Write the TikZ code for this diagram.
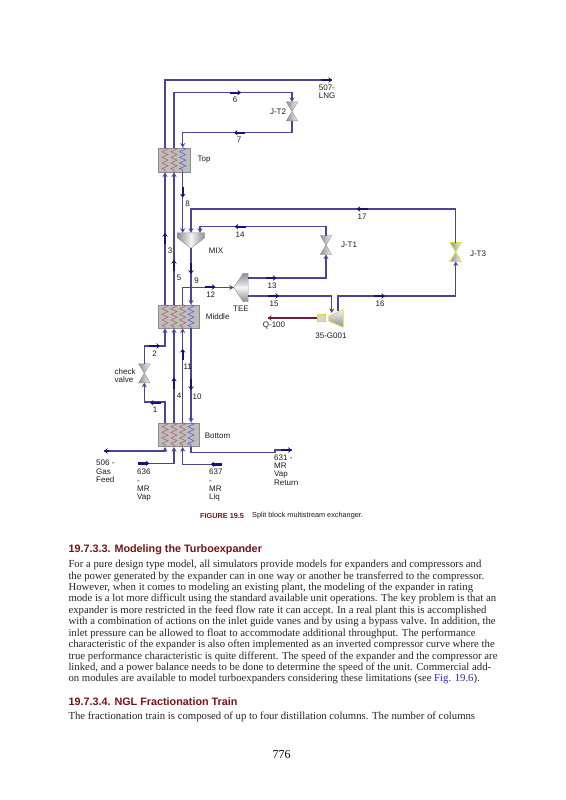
\documentclass[tikz,border=0pt]{standalone}
\usepackage{fontspec}
\setmainfont{Liberation Serif}
\setsansfont{Liberation Sans}
\usepackage{tikz}
\usetikzlibrary{arrows.meta, positioning, calc, decorations.pathmorphing}
\definecolor{pipeblue}{HTML}{4A4598}
\definecolor{tipblue}{HTML}{1C0F78}
\definecolor{blockgray}{HTML}{BDBDBD}
\definecolor{edgegray}{HTML}{8C8C8C}
\definecolor{coilred}{HTML}{B0645A}
\definecolor{coilblue}{HTML}{5A5AC8}
\definecolor{heatred}{HTML}{6E1E3C}
\definecolor{headred}{HTML}{7A1414}
\definecolor{linkblue}{HTML}{2A2AB0}
\definecolor{inkgray}{HTML}{1A1A1A}
\definecolor{unitdark}{HTML}{8E8E8E}
\definecolor{unitlight}{HTML}{F4F4F4}
\tikzset{
    pipe/.style={draw=pipeblue, line width=1.5pt},
    endtip/.style={-{Stealth[length=4.5pt,width=5pt]}, pipe},
    flowmark/.style={draw=tipblue, line width=2.4pt, -{Stealth[length=3.5pt,width=5.5pt]}},
    blocknode/.style={rectangle, draw=edgegray, fill=blockgray, line width=0.9pt, inner sep=0pt},
    valvenode/.style={rectangle, minimum width=11pt, minimum height=18.6pt, inner sep=0pt},
    unitnode/.style={rectangle, inner sep=0pt},
    hotcoil/.style={draw=coilred, line width=0.55pt, decorate, decoration={zigzag, amplitude=3pt, segment length=5.6pt}},
    coldcoil/.style={draw=coilblue, line width=0.55pt, decorate, decoration={zigzag, amplitude=3pt, segment length=5.6pt}},
    tag/.style={inner sep=0pt, text=inkgray, font=\sffamily\fontsize{8}{8.3}\selectfont, align=left},
    bodyline/.style={anchor=west, inner sep=0pt, text=black!85, font=\fontsize{10.75}{12}\selectfont},
    headline/.style={anchor=west, inner sep=0pt, text=headred, font=\sffamily\bfseries\fontsize{10.8}{12}\selectfont}
}
\begin{document}
\begin{tikzpicture}[x=1pt, y=-1pt]
% Split block exchanger flowsheet with the page text under it; one unit is one pixel of the page.
  \useasboundingbox (0,0) rectangle (565,800);
  \fill[white] (0,0) rectangle (565,800);
  \foreach \n/\x in {a/165, b/174, c/182.7, d/191, e/200}
    \coordinate (x\n) at (\x,0);
  % units
  \node[blocknode, minimum width=32pt, minimum height=24pt] (top) at (174,160) {};
  \node[blocknode, minimum width=41pt, minimum height=23pt] (middle) at (178.5,316.5) {};
  \node[blocknode, minimum width=41pt, minimum height=23.7pt] (bottom) at (178.5,434.8) {};
  \node[valvenode] (jt2) at (292,111.4) {};
  \node[valvenode] (jt1) at (326,245) {};
  \node[valvenode] (jt3) at (455.7,252) {};
  \node[valvenode] (check) at (144.3,373.3) {};
  \node[unitnode, minimum width=27pt, minimum height=15pt] (mix) at (191,240.5) {};
  \node[unitnode, minimum width=14pt, minimum height=28pt] (tee) at (241,287.5) {};
  \node[unitnode, minimum width=14pt, minimum height=17pt] (expander) at (336,318.5) {};
  \node[unitnode, draw=yellow!70!gray, fill=unitlight!70!unitdark, minimum width=8pt, minimum height=7pt] (shaft) at (321,318) {};
  % coils
  \draw[hotcoil] (top.north -| xa) -- (top.south -| xa);
  \draw[hotcoil] (top.north -| xb) -- (top.south -| xb);
  \draw[coldcoil] (top.north -| xc) -- (top.south -| xc);
  \foreach \b in {middle, bottom} {
    \draw[hotcoil] (\b.north -| xa) -- (\b.south -| xa);
    \draw[hotcoil] (\b.north -| xb) -- (\b.south -| xb);
    \draw[hotcoil] (\b.north -| xc) -- (\b.south -| xc);
    \draw[coldcoil] (\b.north -| xd) -- (\b.south -| xd);
  }
  % valves and shaded units
  \foreach \v in {jt1, jt2, check}
    \shade[left color=unitdark, right color=unitlight, draw=unitdark, line width=0.4pt] (\v.north west) -- (\v.north east) -- (\v.south west) -- (\v.south east) -- cycle;
  \shade[left color=unitdark, right color=unitlight, draw=yellow!75!gray, line width=0.7pt] (jt3.north west) -- (jt3.north east) -- (jt3.south west) -- (jt3.south east) -- cycle;
  \shade[left color=unitdark, right color=unitlight] (mix.north west) -- (mix.north) -- (mix.south) -- ($(mix.north west)+(0,5)$) -- cycle;
  \shade[left color=unitlight, right color=unitdark] (mix.north) -- (mix.north east) -- ($(mix.north east)+(0,5)$) -- (mix.south) -- cycle;
  \draw[draw=unitdark, line width=0.4pt] (mix.north west) -- (mix.north east) -- ($(mix.north east)+(0,5)$) -- (mix.south) -- ($(mix.north west)+(0,5)$) -- cycle;
  \shade[top color=unitdark, bottom color=unitlight] (tee.west) -- ($(tee.north east)+(-5,0)$) -- (tee.north east) -- (tee.east) -- cycle;
  \shade[top color=unitlight, bottom color=unitdark] (tee.west) -- (tee.east) -- (tee.south east) -- ($(tee.south east)+(-5,0)$) -- cycle;
  \draw[draw=unitdark, line width=0.4pt] (tee.west) -- ($(tee.north east)+(-5,0)$) -- (tee.north east) -- (tee.south east) -- ($(tee.south east)+(-5,0)$) -- cycle;
  \shade[top color=unitlight, bottom color=unitdark, draw=yellow!75!gray, line width=0.7pt] ($(expander.west)+(0,-2.5)$) -- (expander.north east) -- (expander.south east) -- ($(expander.west)+(0,2.5)$) -- cycle;
  % free ends and ports
  \coordinate (lng) at (332,80);
  \coordinate (feed) at (104,451);
  \coordinate (mrvap) at (138,463.3);
  \coordinate (mrliq) at (221.7,464.3);
  \coordinate (retbend) at (275,452.7);
  \coordinate (retend) at (291.7,450);
  \coordinate (tee13) at (248,278);
  \coordinate (tee15) at (248,296);
  \coordinate (expin) at (331.7,313);
  \coordinate (expout) at (338,310.5);
  \coordinate (heatend) at (268,318);
  % streams
  \draw[pipe] (top.north -| xa) |- (lng);
  \draw[endtip] (top.north -| xb) -- ++(0,-55.3) -| (jt2.north);
  \draw[endtip] (jt2.south) -- ++(0,11.6) -| (top.north -| xc);
  \draw[endtip] (middle.north -| xa) -- (top.south -| xa);
  \draw[endtip] (middle.north -| xb) -- (top.south -| xb);
  \draw[endtip] (top.south -| xc) -- (mix.north -| xc);
  \draw[endtip] (jt3.north) -- ++(0,-33.7) -| (mix.north -| xd);
  \draw[endtip] (jt1.north) -- ++(0,-9) -| (mix.north -| xe);
  \draw[endtip] (mix.south) -- (middle.north -| xd);
  \draw[endtip] (middle.north -| xc) |- (tee.west);
  \draw[endtip] (tee13) -| (jt1.south);
  \draw[endtip] (tee15) -| (expin);
  \draw[endtip] (expout) -- ++(0,-14.5) -| (jt3.south);
  \draw[endtip] (check.north) -- ++(0,-18) -| (middle.south -| xa);
  \draw[endtip] (bottom.north -| xa) -- ++(0,-20.3) -| (check.south);
  \draw[endtip] (bottom.north -| xb) -- (middle.south -| xb);
  \draw[endtip] (bottom.north -| xc) -- (middle.south -| xc);
  \draw[endtip] (middle.south -| xd) -- (bottom.north -| xd);
  \draw[endtip] (feed) -| (bottom.south -| xa);
  \draw[endtip] (mrvap) -| (bottom.south -| xb);
  \draw[endtip] (mrliq) -| (bottom.south -| xc);
  \draw[pipe] (bottom.south -| xd) |- (retbend) |- (retend);
  \draw[draw=heatred, line width=1.3pt] (shaft.west) -- (heatend);
  \draw[draw=heatred, line width=2.4pt, -{Stealth[length=3.5pt,width=5.5pt]}] ($(heatend)+(12,0)$) -- (heatend);
  % flow marks on the streams
  \foreach \x/\y/\a in {332/80/0, 241/92.7/0, 234/132.7/180, 182.7/197.5/90, 234.7/226.7/180, 165/233/270,
      174/260/270, 191/274/90, 215.5/287/0, 276.5/278/0, 279/296/0, 385/296/0, 356.7/209/180, 160/346/0,
      150/402.7/180, 182.7/349/270, 174/377.7/270, 191/390/90, 149.3/463.3/0, 210.7/464.3/180, 291.7/450/0}
    \draw[flowmark] (\x,\y) ++(\a+180:11) -- (\x,\y);
  \draw[flowmark] (109,451) -- (feed);
  % tags
  \node[tag, anchor=west] (lnglabel) at (318.7,91.5) {507-\\LNG};
  \node[tag] (s6) at (235,100) {6};
  \node[tag] (jt2label) at (278,112) {J-T2};
  \node[tag] (s7) at (239,140) {7};
  \node[tag, anchor=west] (toplabel) at (197.5,160) {Top};
  \node[tag] (s8) at (187.7,204) {8};
  \node[tag] (s17) at (362,216.7) {17};
  \node[tag] (s14) at (240,235) {14};
  \node[tag] (jt1label) at (349,245) {J-T1};
  \node[tag] (s3) at (170,251) {3};
  \node[tag] (mixlabel) at (216,250.7) {MIX};
  \node[tag] (jt3label) at (478,254) {J-T3};
  \node[tag] (s5) at (179,278) {5};
  \node[tag] (s9) at (196.7,281) {9};
  \node[tag] (s13) at (272,286) {13};
  \node[tag] (s12) at (210.7,295) {12};
  \node[tag] (s15) at (274,303.7) {15};
  \node[tag] (s16) at (380,304) {16};
  \node[tag] (teelabel) at (241,308.7) {TEE};
  \node[tag, anchor=west] (midlabel) at (205.7,317) {Middle};
  \node[tag] (qlabel) at (274,325.7) {Q-100};
  \node[tag] (explabel) at (331,335.7) {35-G001};
  \node[tag] (s2) at (154.7,354) {2};
  \node[tag] (s11) at (187.7,366.7) {11};
  \node[tag, anchor=west] (checklabel) at (114.5,375.7) {check\\valve};
  \node[tag] (s4) at (179,395.7) {4};
  \node[tag] (s10) at (197,397) {10};
  \node[tag] (s1) at (155,410) {1};
  \node[tag, anchor=west] (botlabel) at (204.7,436) {Bottom};
  \node[tag, anchor=north west] (feedlabel) at (96,460) {506 -\\Gas\\Feed};
  \node[tag, anchor=north west] (vaplabel) at (137,469) {636\\-\\MR\\Vap};
  \node[tag, anchor=north west] (liqlabel) at (209,469) {637\\-\\MR\\Liq};
  \node[tag, anchor=north west] (retlabel) at (274,454.5) {631 -\\MR\\Vap\\Return};
  % page text
  \node[anchor=west, inner sep=0pt, text=headred, font=\sffamily\bfseries\fontsize{7.3}{8}\selectfont] (figno) at (200,516) {FIGURE 19.5};
  \node[anchor=west, inner sep=0pt, text=inkgray, font=\sffamily\fontsize{7.3}{8}\selectfont] (caption) at (252,516) {Split block multistream exchanger.};
  \node[headline] (head1) at (68.3,550) {19.7.3.3. Modeling the Turboexpander};
  \foreach \y/\t [count=\i] in {
      565/{For a pure design type model, all simulators provide models for expanders and compressors and},
      576.7/{the power generated by the expander can in one way or another be transferred to the compressor.},
      588/{However, when it comes to modeling an existing plant, the modeling of the expander in rating},
      599.2/{mode is a lot more difficult using the standard available unit operations. The key problem is that an},
      610.5/{expander is more restricted in the feed flow rate it can accept. In a real plant this is accomplished},
      622.2/{with a combination of actions on the inlet guide vanes and by using a bypass valve. In addition, the},
      633.7/{inlet pressure can be allowed to float to accommodate additional throughput. The performance},
      645/{characteristic of the expander is also often implemented as an inverted compressor curve where the},
      656.7/{true performance characteristic is quite different. The speed of the expander and the compressor are},
      667.8/{linked, and a power balance needs to be done to determine the speed of the unit. Commercial add-},
      679.3/{on modules are available to model turboexpanders considering these limitations (see \textcolor{linkblue}{Fig. 19.6}).},
      716.7/{The fractionation train is composed of up to four distillation columns. The number of columns}}
    \node[bodyline] (line\i) at (68.3,\y) {\t};
  \node[headline] (head2) at (68.3,701.7) {19.7.3.4. NGL Fractionation Train};
  \node[inner sep=0pt, font=\fontsize{12}{14}\selectfont] (pageno) at (281.7,755) {776};
\end{tikzpicture}
\end{document}
